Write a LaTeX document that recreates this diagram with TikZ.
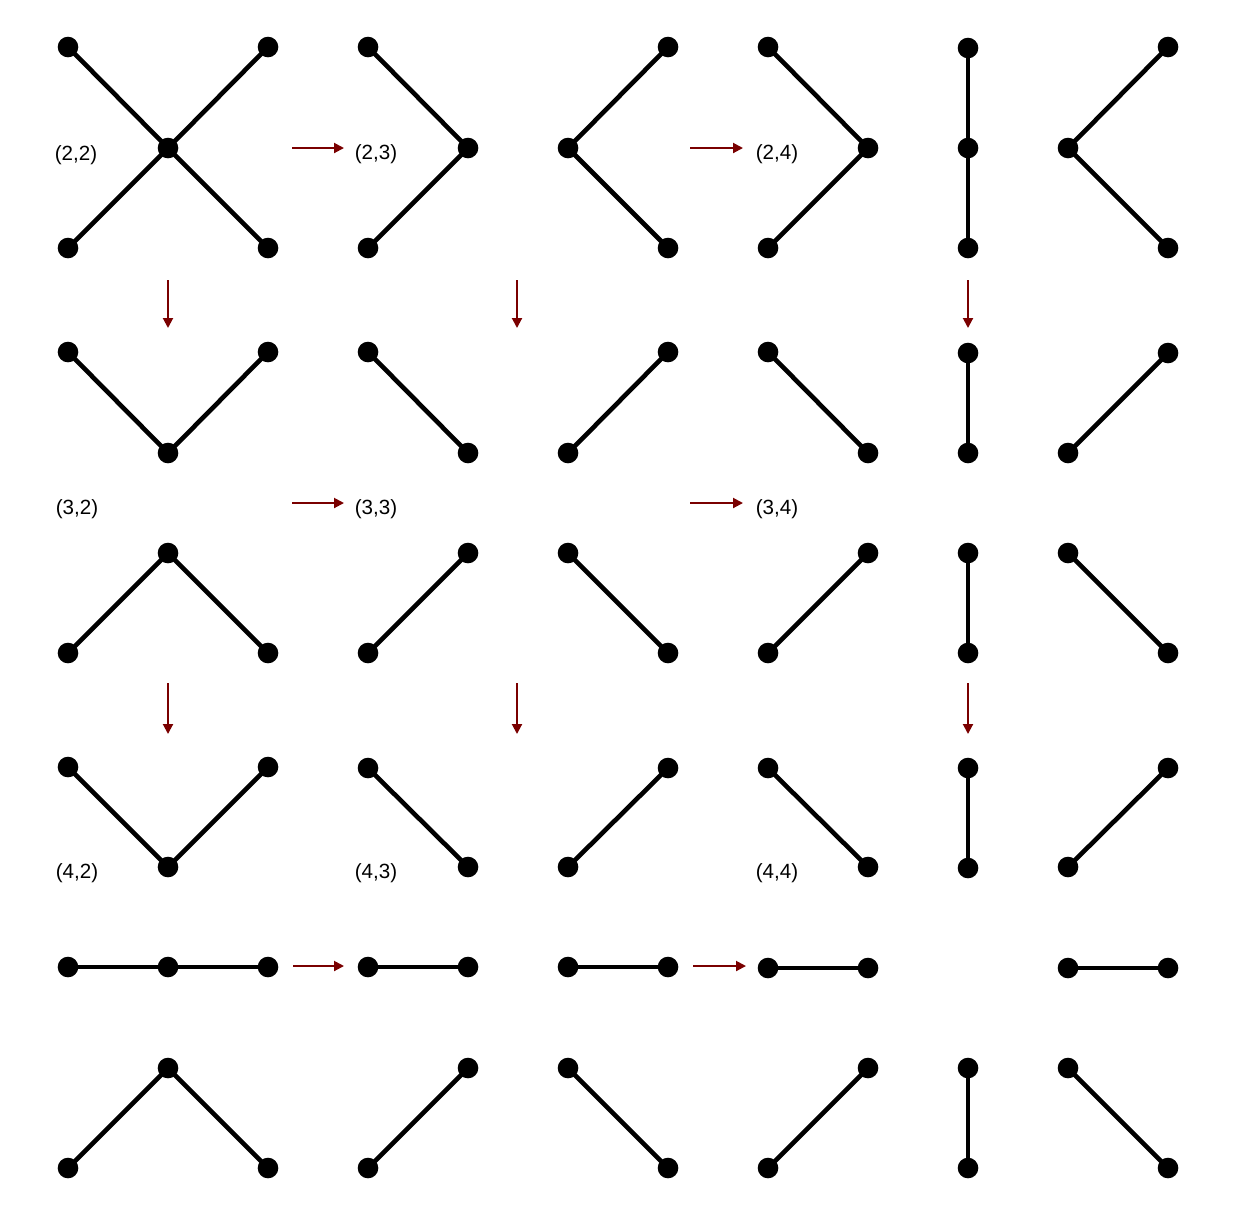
\documentclass[tikz,border=0pt]{standalone}
\usepackage{fontspec}
\setmainfont{Liberation Sans}
\usetikzlibrary{arrows.meta}
\begin{document}
\begin{tikzpicture}[x=0.5pt,y=-0.5pt,
  dot/.style={circle,fill=black,inner sep=0pt,outer sep=0pt,minimum size=10.3pt},
  edge/.style={line width=2.3pt,black,line join=round},
  flow/.style={line width=1pt,color={rgb,255:red,122;green,0;blue,0},-{Triangle[length=5pt,width=5pt]}},
  lbl/.style={font=\fontsize{10.3pt}{12pt}\selectfont,inner sep=0pt}]
\useasboundingbox (0,0) rectangle (1235,1217);
% ---------- Row A ----------
\node[dot] (a11) at (68,47) {};
\node[dot] (a12) at (268,47) {};
\node[dot] (a13) at (168,148) {};
\node[dot] (a14) at (68,248) {};
\node[dot] (a15) at (268,248) {};
\draw[edge] (a11.center) -- (a13.center) -- (a15.center);
\draw[edge] (a12.center) -- (a13.center) -- (a14.center);
\node[dot] (a21) at (368,47) {};
\node[dot] (a22) at (468,148) {};
\node[dot] (a23) at (368,248) {};
\draw[edge] (a21.center) -- (a22.center) -- (a23.center);
\node[dot] (a24) at (668,47) {};
\node[dot] (a25) at (568,148) {};
\node[dot] (a26) at (668,248) {};
\draw[edge] (a24.center) -- (a25.center) -- (a26.center);
\node[dot] (a31) at (768,47) {};
\node[dot] (a32) at (868,148) {};
\node[dot] (a33) at (768,248) {};
\draw[edge] (a31.center) -- (a32.center) -- (a33.center);
\node[dot] (a34) at (968,48) {};
\node[dot] (a35) at (968,148) {};
\node[dot] (a36) at (968,248) {};
\draw[edge] (a34.center) -- (a35.center) -- (a36.center);
\node[dot] (a37) at (1168,47) {};
\node[dot] (a38) at (1068,148) {};
\node[dot] (a39) at (1168,248) {};
\draw[edge] (a37.center) -- (a38.center) -- (a39.center);
\node[lbl] (l22) at (76,155) {(2,2)};
\node[lbl] (l23) at (376,154) {(2,3)};
\node[lbl] (l24) at (777,154) {(2,4)};
% ---------- Row B ----------
\node[dot] (b11) at (68,352) {};
\node[dot] (b12) at (168,453) {};
\node[dot] (b13) at (268,352) {};
\draw[edge] (b11.center) -- (b12.center) -- (b13.center);
\node[dot] (b21) at (368,352) {};
\node[dot] (b22) at (468,453) {};
\draw[edge] (b21.center) -- (b22.center);
\node[dot] (b23) at (568,453) {};
\node[dot] (b24) at (668,352) {};
\draw[edge] (b23.center) -- (b24.center);
\node[dot] (b31) at (768,352) {};
\node[dot] (b32) at (868,453) {};
\draw[edge] (b31.center) -- (b32.center);
\node[dot] (b33) at (968,353) {};
\node[dot] (b34) at (968,453) {};
\draw[edge] (b33.center) -- (b34.center);
\node[dot] (b35) at (1068,453) {};
\node[dot] (b36) at (1168,353) {};
\draw[edge] (b35.center) -- (b36.center);
\node[lbl] (l32) at (77,509) {(3,2)};
\node[lbl] (l33) at (376,509) {(3,3)};
\node[lbl] (l34) at (777,509) {(3,4)};
% ---------- Row C ----------
\node[dot] (c11) at (68,653) {};
\node[dot] (c12) at (168,553) {};
\node[dot] (c13) at (268,653) {};
\draw[edge] (c11.center) -- (c12.center) -- (c13.center);
\node[dot] (c21) at (368,653) {};
\node[dot] (c22) at (468,553) {};
\draw[edge] (c21.center) -- (c22.center);
\node[dot] (c23) at (568,553) {};
\node[dot] (c24) at (668,653) {};
\draw[edge] (c23.center) -- (c24.center);
\node[dot] (c31) at (768,653) {};
\node[dot] (c32) at (868,553) {};
\draw[edge] (c31.center) -- (c32.center);
\node[dot] (c33) at (968,553) {};
\node[dot] (c34) at (968,653) {};
\draw[edge] (c33.center) -- (c34.center);
\node[dot] (c35) at (1068,553) {};
\node[dot] (c36) at (1168,653) {};
\draw[edge] (c35.center) -- (c36.center);
% ---------- Row D ----------
\node[dot] (d11) at (68,767) {};
\node[dot] (d12) at (168,867) {};
\node[dot] (d13) at (268,767) {};
\draw[edge] (d11.center) -- (d12.center) -- (d13.center);
\node[dot] (d21) at (368,768) {};
\node[dot] (d22) at (468,867) {};
\draw[edge] (d21.center) -- (d22.center);
\node[dot] (d23) at (568,867) {};
\node[dot] (d24) at (668,768) {};
\draw[edge] (d23.center) -- (d24.center);
\node[dot] (d31) at (768,768) {};
\node[dot] (d32) at (868,867) {};
\draw[edge] (d31.center) -- (d32.center);
\node[dot] (d33) at (968,768) {};
\node[dot] (d34) at (968,868) {};
\draw[edge] (d33.center) -- (d34.center);
\node[dot] (d35) at (1068,867) {};
\node[dot] (d36) at (1168,768) {};
\draw[edge] (d35.center) -- (d36.center);
\node[lbl] (l42) at (77,873) {(4,2)};
\node[lbl] (l43) at (376,873) {(4,3)};
\node[lbl] (l44) at (777,873) {(4,4)};
% ---------- Row E ----------
\node[dot] (e11) at (68,967) {};
\node[dot] (e12) at (168,967) {};
\node[dot] (e13) at (268,967) {};
\draw[edge] (e11.center) -- (e12.center) -- (e13.center);
\node[dot] (e21) at (368,967) {};
\node[dot] (e22) at (468,967) {};
\draw[edge] (e21.center) -- (e22.center);
\node[dot] (e23) at (568,967) {};
\node[dot] (e24) at (668,967) {};
\draw[edge] (e23.center) -- (e24.center);
\node[dot] (e31) at (768,968) {};
\node[dot] (e32) at (868,968) {};
\draw[edge] (e31.center) -- (e32.center);
\node[dot] (e35) at (1068,968) {};
\node[dot] (e36) at (1168,968) {};
\draw[edge] (e35.center) -- (e36.center);
% ---------- Row F ----------
\node[dot] (f11) at (68,1168) {};
\node[dot] (f12) at (168,1068) {};
\node[dot] (f13) at (268,1168) {};
\draw[edge] (f11.center) -- (f12.center) -- (f13.center);
\node[dot] (f21) at (368,1168) {};
\node[dot] (f22) at (468,1068) {};
\draw[edge] (f21.center) -- (f22.center);
\node[dot] (f23) at (568,1068) {};
\node[dot] (f24) at (668,1168) {};
\draw[edge] (f23.center) -- (f24.center);
\node[dot] (f31) at (768,1168) {};
\node[dot] (f32) at (868,1068) {};
\draw[edge] (f31.center) -- (f32.center);
\node[dot] (f33) at (968,1068) {};
\node[dot] (f34) at (968,1168) {};
\draw[edge] (f33.center) -- (f34.center);
\node[dot] (f35) at (1068,1068) {};
\node[dot] (f36) at (1168,1168) {};
\draw[edge] (f35.center) -- (f36.center);
% ---------- Arrows ----------
\coordinate (h1s) at (292,148); \coordinate (h1e) at (344,148);
\coordinate (h2s) at (690,148); \coordinate (h2e) at (743,148);
\coordinate (h3s) at (292,503); \coordinate (h3e) at (344,503);
\coordinate (h4s) at (690,503); \coordinate (h4e) at (743,503);
\coordinate (h5s) at (293,966); \coordinate (h5e) at (344,966);
\coordinate (h6s) at (693,966); \coordinate (h6e) at (746,966);
\coordinate (v1s) at (168,280); \coordinate (v1e) at (168,328);
\coordinate (v2s) at (517,280); \coordinate (v2e) at (517,328);
\coordinate (v3s) at (968,280); \coordinate (v3e) at (968,328);
\coordinate (v4s) at (168,683); \coordinate (v4e) at (168,734);
\coordinate (v5s) at (517,683); \coordinate (v5e) at (517,734);
\coordinate (v6s) at (968,683); \coordinate (v6e) at (968,734);
\foreach \n in {h1,h2,h3,h4,h5,h6,v1,v2,v3,v4,v5,v6}
  \draw[flow] (\n s) -- (\n e);
\end{tikzpicture}
\end{document}
